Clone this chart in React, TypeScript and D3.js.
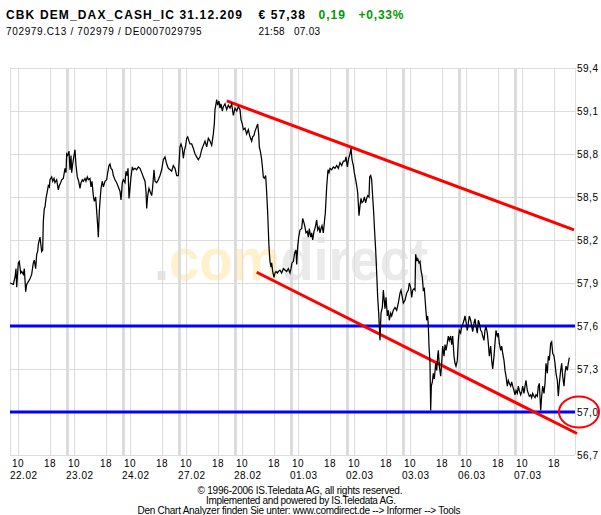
import React from 'react';
import * as d3 from 'd3';

// ---- data ----
const days = ['22.02', '23.02', '24.02', '27.02', '28.02', '01.03', '02.03', '03.03', '06.03', '07.03'];
const hourTicks = [10, 18];
const sessionStartHour = 8;
const sessionHours = 14;
const yTicks = [56.7, 57.0, 57.3, 57.6, 57.9, 58.2, 58.5, 58.8, 59.1, 59.4];

// [trading hours since 22.02 08:00 (14h sessions), price]
const prices: [number, number][] = [
  [0, 57.90], [0.83, 57.89], [1.25, 57.94], [1.5, 58.00], [1.67, 57.87], [2.08, 58.04], [2.33, 58.05], [2.67, 57.97], [2.92, 57.98], [3.33, 57.96],
  [3.58, 58.00], [3.92, 57.84], [4.17, 57.89], [4.58, 57.91], [5.0, 57.93], [5.42, 57.96], [5.83, 58.04], [6.08, 58.06], [6.42, 58.00], [6.67, 58.10],
  [6.92, 58.12], [7.08, 58.17], [7.5, 58.22], [7.92, 58.12], [8.17, 58.13], [8.33, 58.33], [8.58, 58.42], [8.75, 58.43], [9.0, 58.49], [9.33, 58.54],
  [9.58, 58.58], [9.83, 58.57], [10.0, 58.62], [10.42, 58.64], [10.67, 58.61], [11.0, 58.63], [11.25, 58.60], [11.67, 58.62], [12.08, 58.55], [12.33, 58.58],
  [12.67, 58.60], [12.92, 58.62], [13.33, 58.63], [13.75, 58.70], [14.0, 58.67], [14.17, 58.80], [14.42, 58.79], [14.75, 58.82], [15.0, 58.69], [15.25, 58.79],
  [15.42, 58.67], [15.67, 58.73], [16.0, 58.79], [16.25, 58.83], [16.5, 58.72], [16.83, 58.64], [17.17, 58.61], [17.5, 58.56], [17.75, 58.60], [18.08, 58.62],
  [18.33, 58.61], [18.75, 58.63], [19.0, 58.61], [19.33, 58.64], [19.58, 58.62], [20.0, 58.63], [20.25, 58.57], [20.5, 58.61], [20.83, 58.51], [21.08, 58.47],
  [21.42, 58.50], [21.67, 58.40], [21.92, 58.30], [22.08, 58.22], [22.33, 58.40], [22.5, 58.47], [22.75, 58.56], [23.08, 58.61], [23.33, 58.57], [23.75, 58.61],
  [24.17, 58.62], [24.42, 58.67], [24.75, 58.72], [25.0, 58.73], [25.25, 58.70], [25.58, 58.69], [25.83, 58.65], [26.25, 58.62], [26.67, 58.60], [27.08, 58.57],
  [27.5, 58.54], [27.75, 58.48], [28.08, 58.60], [28.33, 58.62], [28.75, 58.60], [29.0, 58.68], [29.25, 58.65], [29.5, 58.70], [29.75, 58.49], [30.0, 58.56],
  [30.25, 58.64], [30.58, 58.71], [30.83, 58.69], [31.25, 58.70], [31.67, 58.69], [32.08, 58.71], [32.5, 58.70], [32.92, 58.67], [33.33, 58.64], [33.75, 58.61],
  [34.0, 58.54], [34.17, 58.42], [34.42, 58.51], [34.75, 58.56], [35.0, 58.54], [35.42, 58.51], [35.67, 58.57], [36.0, 58.69], [36.25, 58.61], [36.67, 58.60],
  [37.08, 58.62], [37.5, 58.65], [37.92, 58.69], [38.33, 58.76], [38.75, 58.78], [39.17, 58.73], [39.58, 58.70], [40.0, 58.69], [40.42, 58.68], [40.83, 58.72],
  [41.25, 58.70], [41.67, 58.65], [42.08, 58.65], [42.5, 58.85], [42.75, 58.87], [43.08, 58.84], [43.33, 58.77], [43.58, 58.82], [43.92, 58.86], [44.17, 58.91],
  [44.42, 58.92], [44.75, 58.89], [45.0, 58.87], [45.42, 58.87], [45.83, 58.84], [46.25, 58.80], [46.67, 58.78], [47.08, 58.76], [47.5, 58.78],
  [47.92, 58.83], [48.33, 58.86], [48.75, 58.89], [49.17, 58.85], [49.58, 58.91], [50.0, 58.89], [50.42, 58.86], [50.83, 58.94], [51.08, 59.01], [51.25, 59.11],
  [51.5, 59.15], [51.67, 59.18], [51.92, 59.14], [52.25, 59.17], [52.5, 59.12], [52.75, 59.15], [53.08, 59.10], [53.33, 59.13], [53.75, 59.15], [54.17, 59.11],
  [54.58, 59.14], [55.0, 59.12], [55.42, 59.15], [55.83, 59.07], [56.25, 59.12], [56.67, 59.10], [57.08, 59.13], [57.5, 59.11], [57.75, 59.04], [58.08, 59.01],
  [58.33, 58.97], [58.75, 58.98], [59.17, 58.94], [59.58, 58.97], [60.0, 58.92], [60.42, 58.89], [60.67, 58.92], [61.0, 58.93], [61.25, 58.96], [61.67, 58.99],
  [61.92, 59.01], [62.17, 58.94], [62.33, 58.85], [62.58, 58.82], [62.92, 58.76], [63.17, 58.69], [63.33, 58.64], [63.58, 58.63], [63.92, 58.65], [64.17, 58.53],
  [64.42, 58.39], [64.58, 58.27], [64.75, 58.15], [65.0, 58.05], [65.25, 58.01], [65.42, 58.04], [65.67, 57.98], [66.0, 57.94], [66.25, 57.97], [66.5, 57.98],
  [66.83, 57.97], [67.08, 57.98], [67.5, 57.99], [67.92, 57.97], [68.33, 58.00], [68.75, 57.99], [69.17, 57.98], [69.58, 58.00], [70.0, 57.97], [70.25, 58.00],
  [70.5, 58.04], [70.83, 58.05], [71.17, 58.11], [71.5, 58.13], [71.67, 58.03], [71.92, 58.15], [72.17, 58.22], [72.5, 58.27], [72.92, 58.28], [73.17, 58.35],
  [73.5, 58.32], [73.75, 58.29], [74.0, 58.25], [74.33, 58.26], [74.58, 58.22], [74.83, 58.28], [75.17, 58.22], [75.42, 58.25], [75.67, 58.20], [76.0, 58.26],
  [76.33, 58.29], [76.67, 58.34], [76.92, 58.27], [77.25, 58.29], [77.5, 58.25], [77.75, 58.28], [78.0, 58.30], [78.33, 58.25], [78.58, 58.32], [78.83, 58.39],
  [79.17, 58.57], [79.5, 58.69], [79.75, 58.67], [80.0, 58.70], [80.42, 58.69], [80.83, 58.71], [81.25, 58.70], [81.67, 58.72], [82.08, 58.70], [82.5, 58.74],
  [82.92, 58.72], [83.33, 58.75], [83.75, 58.75], [84.0, 58.78], [84.33, 58.71], [84.67, 58.77], [85.0, 58.80], [85.25, 58.84], [85.5, 58.76], [85.83, 58.72],
  [86.08, 58.67], [86.42, 58.62], [86.67, 58.58], [86.92, 58.53], [87.25, 58.37], [87.5, 58.44], [87.75, 58.49], [88.0, 58.46], [88.33, 58.47], [88.58, 58.50],
  [88.92, 58.46], [89.17, 58.49], [89.42, 58.51], [89.75, 58.50], [89.92, 58.64], [90.17, 58.65], [90.42, 58.62], [90.67, 58.50], [90.92, 58.39], [91.17, 58.25],
  [91.42, 58.13], [91.67, 57.97], [91.92, 57.80], [92.17, 57.69],
  [92.5, 57.50], [92.75, 57.69], [93.08, 57.73], [93.33, 57.85], [93.75, 57.72], [94.0, 57.80], [94.33, 57.67], [94.58, 57.71], [94.83, 57.64], [95.17, 57.69],
  [95.42, 57.67], [95.83, 57.71], [96.25, 57.73], [96.67, 57.71], [97.08, 57.76], [97.5, 57.83], [97.75, 57.85], [98.08, 57.80], [98.33, 57.76], [98.75, 57.78],
  [99.17, 57.83], [99.58, 57.85], [99.83, 57.90], [100.17, 57.87], [100.42, 57.80], [100.67, 57.85], [101.0, 57.86], [101.25, 57.85], [101.42, 58.10], [101.67, 58.06],
  [101.92, 58.07], [102.25, 58.04], [102.5, 58.05], [102.75, 57.99], [103.08, 57.94], [103.33, 57.85], [103.58, 57.86], [103.92, 57.73], [104.17, 57.64], [104.42, 57.67],
  [104.58, 57.60], [104.75, 57.46], [105.0, 57.34], [105.17, 57.01], [105.33, 57.18], [105.58, 57.21], [105.83, 57.27], [106.08, 57.23], [106.42, 57.34], [106.67, 57.29],
  [106.92, 57.39], [107.08, 57.43], [107.33, 57.32], [107.67, 57.25], [107.92, 57.34], [108.17, 57.46], [108.5, 57.39], [108.75, 57.47], [109.0, 57.43], [109.33, 57.48],
  [109.58, 57.53], [109.83, 57.50], [110.17, 57.53], [110.42, 57.47], [110.67, 57.53], [111.0, 57.39], [111.25, 57.34], [111.5, 57.32], [111.83, 57.36], [112.08, 57.50],
  [112.33, 57.57], [112.67, 57.55], [112.92, 57.60], [113.17, 57.61], [113.5, 57.64], [113.75, 57.67], [114.0, 57.63], [114.33, 57.57], [114.58, 57.62], [114.83, 57.67],
  [115.17, 57.64], [115.42, 57.60], [115.67, 57.56], [116.0, 57.62], [116.25, 57.65], [116.5, 57.60], [116.83, 57.55], [117.08, 57.64], [117.33, 57.62], [117.67, 57.57],
  [117.92, 57.56], [118.17, 57.53], [118.5, 57.50], [118.75, 57.57], [119.0, 57.60], [119.33, 57.55], [119.58, 57.48], [119.83, 57.39], [120.17, 57.46], [120.42, 57.36],
  [120.67, 57.30], [121.0, 57.39], [121.25, 57.48], [121.5, 57.57], [121.83, 57.53], [122.08, 57.55], [122.33, 57.48], [122.67, 57.43], [122.92, 57.46], [123.17, 57.41],
  [123.5, 57.36], [123.75, 57.29], [124.0, 57.25], [124.33, 57.18], [124.58, 57.22], [124.83, 57.20], [125.17, 57.18], [125.42, 57.21], [125.67, 57.18], [126.0, 57.15],
  [126.25, 57.12], [126.5, 57.15], [126.83, 57.13], [127.08, 57.18], [127.33, 57.15], [127.67, 57.12], [127.92, 57.14], [128.17, 57.18], [128.5, 57.13], [128.75, 57.18],
  [129.0, 57.22], [129.33, 57.15], [129.58, 57.13], [129.83, 57.11], [130.17, 57.12], [130.42, 57.10], [130.67, 57.13], [131.0, 57.11], [131.25, 57.10], [131.5, 57.12],
  [131.83, 57.11], [132.08, 57.18], [132.33, 57.20], [132.67, 57.01], [132.92, 57.11], [133.17, 57.18], [133.5, 57.13], [133.75, 57.20], [134.0, 57.34], [134.33, 57.27],
  [134.58, 57.39], [134.83, 57.36], [135.17, 57.48], [135.42, 57.49], [135.67, 57.41], [136.0, 57.39], [136.25, 57.34], [136.5, 57.27], [136.83, 57.22], [137.08, 57.11],
  [137.33, 57.20], [137.67, 57.29], [137.92, 57.34], [138.17, 57.25], [138.5, 57.18], [138.75, 57.27], [139.0, 57.32], [139.33, 57.29], [139.58, 57.34], [139.83, 57.38],
];

const upperChannel: [number, number][] = [[54.2, 59.17], [141.0, 58.27]];
const lowerChannel: [number, number][] = [[61.67, 57.975], [141.75, 56.85]];
const supportLevels = [57.6, 57.0];
const markedLevel = 57.0;

const headerTitle = 'CBK DEM_DAX_CASH_IC 31.12.209';
const headerPrice = '€ 57,38';
const headerChange = '0,19';
const headerPct = '+0,33%';
const headerIds = '702979.C13 / 702979 / DE0007029795';
const headerTime = '21:58';
const headerDate = '07.03';
const footerLines = [
  '© 1996-2006 IS.Teledata AG, all rights reserved.',
  'Implemented and powered by IS.Teledata AG.',
  'Den Chart Analyzer finden Sie unter: www.comdirect.de --> Informer --> Tools',
];
const watermarkText = '.comdirect';

// ---- layout ----
const W = 601;
const H = 515;
const left = 10;
const right = 575;
const top = 68;
const bottom = 455;
const FONT = '"Liberation Sans", Arial, sans-serif';
const GRID = '#dcdcdc';

export default function App() {
  const totalHours = days.length * sessionHours;
  const x = d3.scaleLinear().domain([0, totalHours + 1.25]).range([left, right]);
  const y = d3.scaleLinear().domain([56.7, 59.4]).range([bottom, top]);
  const line = d3.line<[number, number]>().x((d) => x(d[0])).y((d) => y(d[1]));
  const fmt = (v: number) => d3.format('.1f')(v).replace('.', ',');

  const crisp = (v: number) => Math.round(v) + 0.5;

  // watermark colour zones: "." grey, "com" pale yellow, "direct" grey
  const wmX0 = 154;
  const wmLen = 274;
  const dotEnd = (169 - wmX0) / wmLen;
  const comEnd = (279 - wmX0) / wmLen;

  return (
    <svg width={W} height={H} style={{ position: 'absolute', left: 0, top: 0, background: '#fff' }} fontFamily={FONT}>
      <defs>
        <linearGradient id="wmGrad" gradientUnits="userSpaceOnUse" x1={wmX0} x2={wmX0 + wmLen} y1={0} y2={0}>
          <stop offset={0} stopColor="#e4e4e4" />
          <stop offset={dotEnd} stopColor="#e4e4e4" />
          <stop offset={dotEnd} stopColor="#fff1cc" />
          <stop offset={comEnd} stopColor="#fff1cc" />
          <stop offset={comEnd} stopColor="#eaeaea" />
          <stop offset={1} stopColor="#eaeaea" />
        </linearGradient>
      </defs>
      <rect x={0} y={0} width={W} height={H} fill="#fff" />
      {/* header */}
      <g fontWeight="bold" fontSize={12}>
        <text x={6} y={18.5} fill="#000" textLength={236} lengthAdjust="spacing">{headerTitle}</text>
        <text x={258.5} y={18.5} fill="#000" textLength={46.5} lengthAdjust="spacing">{headerPrice}</text>
        <text x={318.5} y={18.5} fill="#009900" textLength={26.5} lengthAdjust="spacing">{headerChange}</text>
        <text x={358.5} y={18.5} fill="#009900" textLength={45} lengthAdjust="spacing">{headerPct}</text>
      </g>
      <g fontSize={10} fill="#000">
        <text x={6} y={34.5} textLength={195.5} lengthAdjust="spacing">{headerIds}</text>
        <text x={258.5} y={34.5} textLength={26} lengthAdjust="spacing">{headerTime}</text>
        <text x={294} y={34.5} textLength={26} lengthAdjust="spacing">{headerDate}</text>
      </g>

      {/* watermark */}
      <text x={wmX0} y={280} fontSize={60} fontWeight="bold" fill="url(#wmGrad)"
        textLength={wmLen} lengthAdjust="spacingAndGlyphs">{watermarkText}</text>

      {/* grid */}
      <g>
        {yTicks.map((v) => (
          <line key={'h' + v} x1={left} x2={right} y1={crisp(y(v))} y2={crisp(y(v))} stroke={GRID} strokeWidth={1} />
        ))}
        <line x1={crisp(left)} x2={crisp(left)} y1={top} y2={bottom} stroke={GRID} />
        <line x1={crisp(right)} x2={crisp(right)} y1={top} y2={bottom} stroke={GRID} />
        {days.map((d, i) =>
          hourTicks.map((h) => {
            const xx = crisp(x(i * sessionHours + h - sessionStartHour));
            return <line key={d + h} x1={xx} x2={xx} y1={top} y2={bottom} stroke={GRID} strokeWidth={1} />;
          })
        )}
        {days.slice(1).map((d, i) => (
          <rect key={'sep' + d} x={Math.round(x((i + 1) * sessionHours))} y={top} width={3} height={bottom - top} fill={GRID} />
        ))}
      </g>

      {/* support / resistance lines */}
      {supportLevels.map((v) => (
        <line key={'s' + v} x1={left} x2={right} y1={y(v)} y2={y(v)} stroke="#0000ff" strokeWidth={3} />
      ))}
      {/* channel */}
      <path d={line(upperChannel) || ''} stroke="#ff0000" strokeWidth={3} fill="none" />
      <path d={line(lowerChannel) || ''} stroke="#ff0000" strokeWidth={3} fill="none" />

      {/* price */}
      <path d={line(prices) || ''} stroke="#000" strokeWidth={1.25} fill="none" strokeLinejoin="miter" />

      {/* y axis labels */}
      <g fontSize={10} letterSpacing={0.5} fill="#000">
        {yTicks.map((v) => (
          <text key={'yl' + v} x={577} y={y(v) + 3.8}>{fmt(v)}</text>
        ))}
      </g>

      {/* x axis labels */}
      <g fontSize={10} letterSpacing={0.5} fill="#000">
        {days.map((d, i) =>
          hourTicks.map((h) => (
            <text key={'xl' + d + h} x={x(i * sessionHours + h - sessionStartHour)} y={467} textAnchor="middle">{h}</text>
          ))
        )}
        {days.map((d, i) => (
          <text key={'dl' + d} x={x(i * sessionHours)} y={478.5}>{d}</text>
        ))}
      </g>

      {/* marker ellipse */}
      <ellipse cx={right + 4} cy={y(markedLevel)} rx={20} ry={15.5} fill="none" stroke="#ff0000" strokeWidth={2} />

      {/* footer */}
      <g fontSize={10} fill="#000">
        <text x={197.5} y={494} textLength={205} lengthAdjust="spacing">{footerLines[0]}</text>
        <text x={206} y={504} textLength={190} lengthAdjust="spacing">{footerLines[1]}</text>
        <text x={137.5} y={514} textLength={323} lengthAdjust="spacing">{footerLines[2]}</text>
      </g>
    </svg>
  );
}
